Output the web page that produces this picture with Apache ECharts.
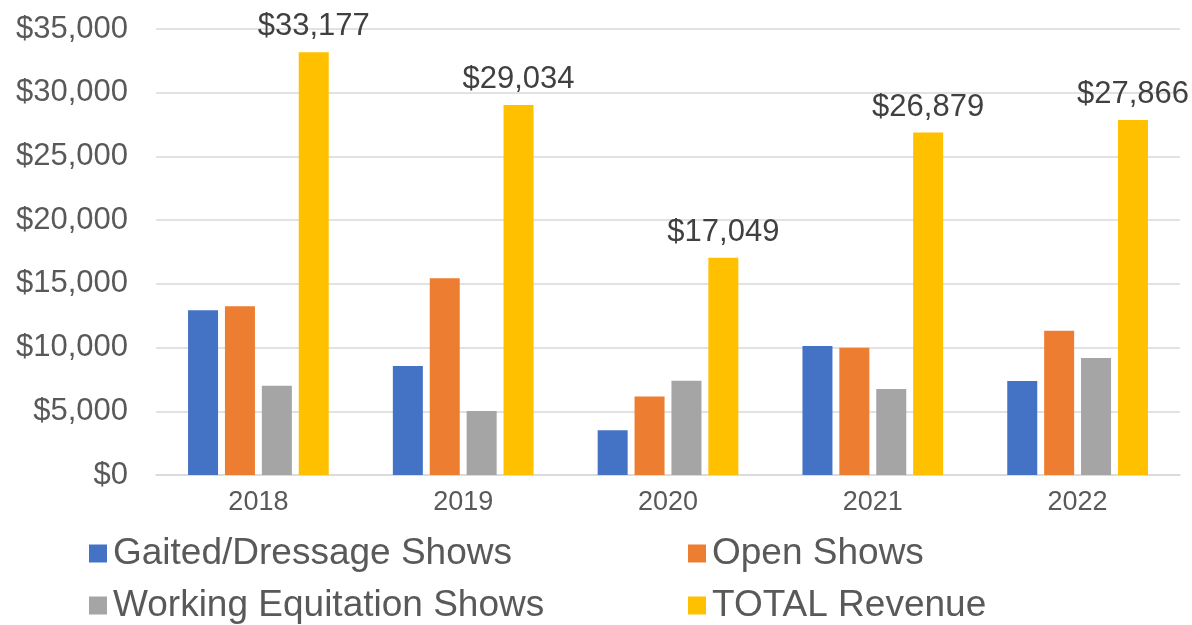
<!DOCTYPE html>
<html>
<head>
<meta charset="utf-8">
<title>Show Revenue</title>
<script src="https://cdn.jsdelivr.net/npm/echarts@6/dist/echarts.min.js"></script>
<style>
  html, body { margin: 0; padding: 0; background: #fff; }
  #chart { width: 1192px; height: 625px; }
</style>
</head>
<body>
<div id="chart"></div>
<script>
const years = ['2018', '2019', '2020', '2021', '2022'];
const gaited = [12930, 8558, 3511, 10125, 7382];
const openShows = [13250, 15445, 6152, 9992, 11324];
const working = [6997, 5031, 7390, 6755, 9185];
const total = [33177, 29034, 17049, 26879, 27866];
const yTicks = { min: 0, max: 35000, step: 5000 };

const FONT = '"Liberation Sans", Arial, sans-serif';
const money = v => '$' + v.toLocaleString('en-US');

const chart = echarts.init(document.getElementById('chart'));

function bar(name, data, color, label) {
    return {
        name: name,
        type: 'bar',
        data: data,
        barWidth: 30,
        barGap: '23%',
        itemStyle: { color: color },
        label: label ? {
            show: true,
            position: 'top',
            distance: 10,
            fontFamily: FONT,
            fontSize: 31,
            color: '#404040',
            formatter: p => money(p.value)
        } : { show: false }
    };
}

function legendItem(name, left, top) {
    return {
        data: [name],
        left: left,
        top: top,
        icon: 'rect',
        itemWidth: 18,
        itemHeight: 18,
        itemGap: 0,
        selectedMode: false,
        textStyle: { fontFamily: FONT, fontSize: 37, color: '#595959', padding: [0, 0, 0, 1] }
    };
}

const option = {
    backgroundColor: '#ffffff',
    animation: false,
    grid: { left: 156, right: 12, top: 29, bottom: 150, outerBoundsMode: 'none' },
    legend: [
        legendItem('Gaited/Dressage Shows', 84, 530),
        legendItem('Open Shows', 683, 530),
        legendItem('Working Equitation Shows', 84, 582),
        legendItem('TOTAL Revenue', 683, 582)
    ],
    xAxis: {
        type: 'category',
        data: years,
        axisLine: { lineStyle: { color: '#d9d9d9', width: 1.5 } },
        axisTick: { show: false },
        axisLabel: { fontFamily: FONT, fontSize: 27, color: '#595959', margin: 14 }
    },
    yAxis: {
        type: 'value',
        min: yTicks.min,
        max: yTicks.max,
        interval: yTicks.step,
        axisLine: { show: false },
        axisTick: { show: false },
        splitLine: { lineStyle: { color: '#d9d9d9', width: 1.5 } },
        axisLabel: { fontFamily: FONT, fontSize: 31, color: '#595959', margin: 28, formatter: money }
    },
    series: [
        bar('Gaited/Dressage Shows', gaited, '#4472C4', false),
        bar('Open Shows', openShows, '#ED7D31', false),
        bar('Working Equitation Shows', working, '#A5A5A5', false),
        bar('TOTAL Revenue', total, '#FFC000', true)
    ]
};

chart.setOption(option);
</script>
</body>
</html>
